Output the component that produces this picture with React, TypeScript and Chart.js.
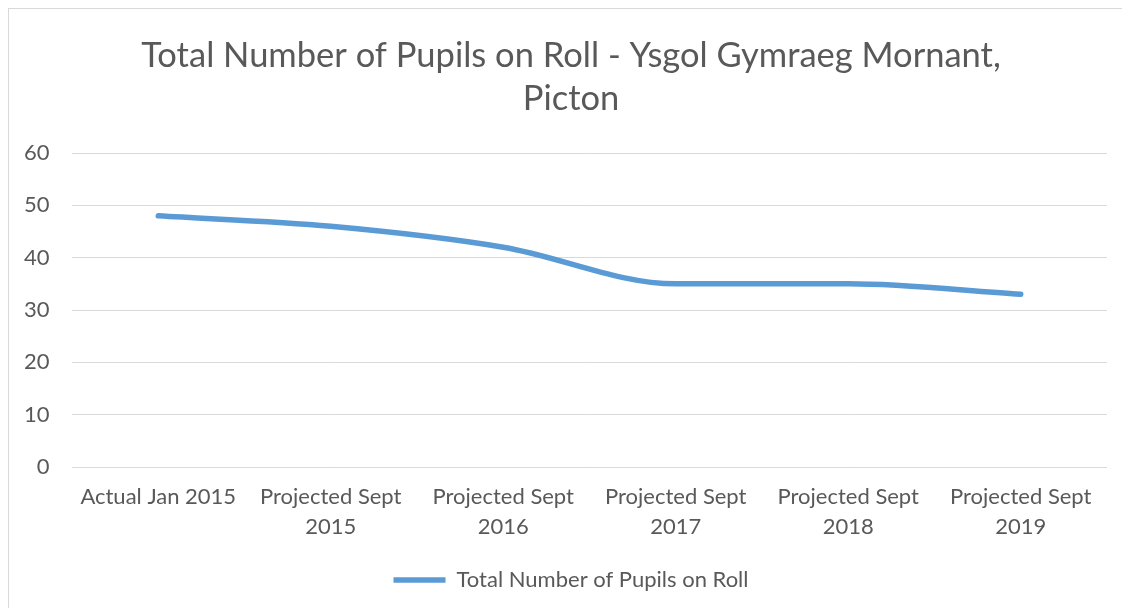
import React, { useEffect, useRef } from 'react';
import { Chart, registerables } from 'chart.js';

Chart.register(...registerables);

const chartTitle = ['Total Number of Pupils on Roll - Ysgol Gymraeg Mornant,', 'Picton'];
const categories: (string | string[])[] = [
  'Actual Jan 2015',
  ['Projected Sept', '2015'],
  ['Projected Sept', '2016'],
  ['Projected Sept', '2017'],
  ['Projected Sept', '2018'],
  ['Projected Sept', '2019'],
];
const seriesName = 'Total Number of Pupils on Roll';
const pupils = [48, 46, 42, 35, 35, 33];
const yMin = 0;
const yMax = 60;
const yStep = 10;

const TEXT = '#595959';
const GRID = '#D9D9D9';
const BLUE = '#5B9BD5';
const FONT = 'Lato, "Open Sans", sans-serif';

export default function App() {
  const ref = useRef<HTMLCanvasElement | null>(null);

  useEffect(() => {
    if (!ref.current) return;
    const chart = new Chart(ref.current, {
      type: 'line',
      data: {
        labels: categories,
        datasets: [
          {
            label: seriesName,
            data: pupils,
            borderColor: BLUE,
            backgroundColor: BLUE,
            borderWidth: 5.5,
            borderCapStyle: 'round',
            borderJoinStyle: 'round',
            pointRadius: 0,
            pointHoverRadius: 0,
            cubicInterpolationMode: 'monotone',
            fill: false,
          },
        ],
      },
      options: {
        animation: false,
        responsive: true,
        maintainAspectRatio: false,
        layout: { padding: { left: 26, right: 23, top: 0, bottom: 7 } },
        plugins: {
          title: {
            display: true,
            text: chartTitle,
            color: TEXT,
            font: { family: FONT, size: 34.5, weight: 'normal', lineHeight: '43px' },
            padding: { top: 25, bottom: 33 },
          },
          legend: {
            display: true,
            position: 'bottom',
            labels: {
              color: TEXT,
              font: { family: FONT, size: 22 },
              usePointStyle: true,
              pointStyle: 'line',
              pointStyleWidth: 52,
              padding: 8,
            },
          },
          tooltip: { enabled: false },
        },
        scales: {
          x: {
            offset: true,
            grid: { display: false, drawTicks: false },
            border: { display: false },
            ticks: {
              color: TEXT,
              font: { family: FONT, size: 22, lineHeight: '30px' },
              padding: 15,
              maxRotation: 0,
              autoSkip: false,
            },
            afterFit: (s: any) => {
              s.height = 94;
            },
          },
          y: {
            min: yMin,
            max: yMax,
            grid: { color: GRID, lineWidth: 1, drawTicks: false },
            border: { display: false },
            ticks: {
              stepSize: yStep,
              color: TEXT,
              font: { family: FONT, size: 22 },
              mirror: true,
              crossAlign: 'far',
              padding: -48,
            },
            afterFit: (s: any) => {
              s.width = 37;
            },
          },
        },
      },
    });
    return () => chart.destroy();
  }, []);

  return (
    <div
      style={{
        position: 'relative',
        width: 1122,
        height: 600,
        boxSizing: 'border-box',
        borderLeft: '1px solid #D9D9D9',
        borderTop: '1px solid #D9D9D9',
        background: '#fff',
      }}
    >
      <canvas ref={ref} />
    </div>
  );
}
